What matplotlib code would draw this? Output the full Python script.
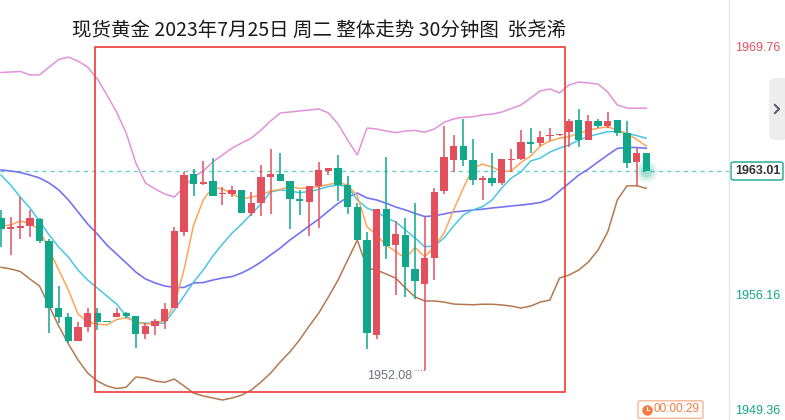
import matplotlib
matplotlib.use("Agg")
import matplotlib.pyplot as plt
from matplotlib.patches import Rectangle, FancyBboxPatch
from matplotlib.lines import Line2D

# 30-minute candles, spot gold, 2023-07-25
opens = [1960.44, 1959.84, 1959.89, 1960.00, 1960.37, 1959.18, 1955.48, 1954.99, 1953.67, 1954.46,
         1955.21, 1954.72, 1955.00, 1955.21, 1955.04, 1954.07, 1954.51, 1954.78, 1955.50, 1959.67,
         1962.85, 1962.30, 1962.46, 1961.73, 1961.75, 1961.97, 1960.72, 1961.27, 1962.70, 1962.85,
         1962.46, 1961.47, 1961.32, 1962.20, 1963.03, 1963.17, 1962.24, 1961.03, 1959.22, 1954.00,
         1960.92, 1958.94, 1959.49, 1957.63, 1956.82, 1958.25, 1961.93, 1963.61, 1964.38, 1963.61,
         1962.52, 1962.61, 1962.37, 1963.61, 1963.67, 1964.60, 1964.57, 1964.92, 1964.97, 1965.15,
         1965.81, 1964.71, 1965.76, 1965.50, 1965.81, 1965.11, 1963.52, 1963.98]
highs = [1960.87, 1960.50, 1961.58, 1960.87, 1960.41, 1959.27, 1956.69, 1955.22, 1954.73, 1955.48,
         1955.48, 1954.74, 1955.48, 1955.26, 1955.04, 1954.67, 1954.88, 1955.76, 1959.92, 1962.97,
         1963.12, 1963.56, 1963.72, 1962.15, 1962.19, 1961.97, 1961.87, 1963.34, 1964.22, 1964.00,
         1962.46, 1961.97, 1962.19, 1963.49, 1963.17, 1963.89, 1962.74, 1961.25, 1959.66, 1960.92,
         1963.76, 1960.28, 1960.41, 1961.24, 1960.50, 1962.06, 1965.48, 1964.99, 1965.85, 1964.75,
         1962.74, 1964.00, 1963.67, 1964.20, 1965.26, 1965.39, 1965.22, 1965.39, 1965.02, 1965.85,
         1966.40, 1966.09, 1965.85, 1966.24, 1965.81, 1965.76, 1964.26, 1963.98]
lows = [1958.85, 1958.39, 1959.27, 1959.40, 1959.04, 1954.13, 1954.64, 1953.54, 1953.67, 1954.18,
        1954.27, 1954.69, 1955.00, 1954.92, 1953.30, 1953.80, 1953.98, 1954.35, 1955.48, 1959.44,
        1961.65, 1962.24, 1961.65, 1961.14, 1961.60, 1960.69, 1960.55, 1960.55, 1960.65, 1962.48,
        1959.82, 1960.59, 1959.46, 1959.88, 1962.79, 1961.36, 1960.65, 1959.22, 1953.21, 1953.76,
        1958.19, 1956.20, 1956.07, 1955.96, 1952.08, 1957.02, 1961.75, 1962.97, 1963.30, 1962.24,
        1961.42, 1962.19, 1962.24, 1962.98, 1963.61, 1964.02, 1964.38, 1964.68, 1964.96, 1964.31,
        1964.35, 1964.71, 1965.36, 1965.36, 1964.95, 1963.16, 1962.20, 1963.01]
closes = [1959.81, 1959.92, 1959.99, 1960.43, 1959.18, 1955.50, 1955.00, 1953.67, 1954.44, 1955.21,
          1954.73, 1954.70, 1955.21, 1955.06, 1954.07, 1954.49, 1954.77, 1955.43, 1959.71, 1962.79,
          1962.31, 1962.41, 1961.65, 1961.78, 1961.97, 1960.72, 1961.27, 1962.70, 1962.85, 1962.48,
          1961.49, 1961.38, 1962.19, 1963.06, 1963.17, 1962.24, 1961.05, 1959.22, 1954.13, 1960.92,
          1958.91, 1959.55, 1957.75, 1956.98, 1958.23, 1961.86, 1963.78, 1964.38, 1963.61, 1962.52,
          1962.63, 1962.37, 1963.67, 1963.67, 1964.60, 1964.49, 1964.88, 1965.00, 1965.00, 1965.77,
          1964.71, 1965.76, 1965.50, 1965.76, 1965.11, 1963.47, 1963.98, 1963.01]

ma_fast = [1959.99, 1960.04, 1960.26, 1960.14, 1959.77, 1958.67, 1957.57, 1956.47, 1955.15, 1954.71,
           1954.60, 1954.55, 1954.85, 1954.95, 1954.73, 1954.60, 1954.64, 1954.79, 1955.65, 1957.57,
           1960.04, 1961.42, 1962.13, 1962.02, 1961.75, 1961.47, 1961.58, 1961.69, 1961.91, 1962.00,
           1962.15, 1962.06, 1962.08, 1962.15, 1962.27, 1962.37, 1962.24, 1961.64, 1959.95, 1959.49,
           1958.94, 1958.58, 1958.21, 1958.80, 1958.30, 1958.85, 1959.59, 1960.87, 1962.06, 1963.16,
           1963.39, 1963.23, 1962.98, 1963.01, 1963.48, 1963.83, 1964.38, 1964.66, 1964.81, 1964.90,
           1965.08, 1965.26, 1965.36, 1965.44, 1965.26, 1965.08, 1964.75, 1964.38]
ma_slow = [1962.79, 1962.24, 1961.58, 1960.98, 1960.26, 1959.49, 1958.83, 1958.28, 1957.57, 1957.02,
           1956.58, 1956.14, 1955.70, 1955.04, 1954.69, 1954.66, 1954.64, 1954.66, 1955.37, 1956.14,
           1956.91, 1957.57, 1958.34, 1959.00, 1959.60, 1960.10, 1960.65, 1961.20, 1961.86, 1961.97,
           1961.91, 1961.82, 1961.88, 1962.00, 1962.16, 1962.24, 1962.15, 1961.42, 1960.98, 1960.76,
           1960.43, 1960.21, 1959.77, 1959.33, 1958.85, 1958.89, 1959.33, 1959.99, 1960.59, 1960.87,
           1961.05, 1961.42, 1962.08, 1962.63, 1962.96, 1963.56, 1963.72, 1964.05, 1964.27, 1964.44,
           1964.71, 1964.91, 1965.04, 1965.17, 1965.18, 1965.08, 1964.96, 1964.81]
boll_mid = [1963.07, 1963.01, 1962.93, 1962.79, 1962.63, 1962.35, 1961.97, 1961.42, 1960.76, 1960.10,
            1959.55, 1958.94, 1958.45, 1957.96, 1957.46, 1957.08, 1956.86, 1956.69, 1956.62, 1956.61,
            1956.86, 1956.88, 1957.02, 1957.13, 1957.21, 1957.41, 1957.68, 1958.01, 1958.40, 1958.78,
            1959.22, 1959.60, 1959.99, 1960.37, 1960.81, 1961.23, 1961.57, 1961.80, 1961.53, 1961.42,
            1961.24, 1961.03, 1960.87, 1960.68, 1960.51, 1960.55, 1960.65, 1960.76, 1960.81, 1960.87,
            1960.91, 1960.98, 1961.03, 1961.09, 1961.14, 1961.20, 1961.28, 1961.47, 1961.91, 1962.35,
            1962.79, 1963.12, 1963.51, 1963.89, 1964.25, 1964.31, 1964.30, 1964.26]
boll_up = [1968.42, 1968.45, 1968.48, 1968.29, 1968.29, 1968.72, 1969.14, 1969.27, 1969.05, 1968.72,
           1968.07, 1967.19, 1966.25, 1965.10, 1963.45, 1962.35, 1962.02, 1961.75, 1961.58, 1962.13,
           1962.68, 1963.01, 1963.51, 1963.89, 1964.27, 1964.55, 1964.82, 1965.26, 1965.76, 1966.20,
           1966.25, 1966.31, 1966.36, 1966.42, 1966.20, 1965.59, 1964.71, 1963.89, 1965.37, 1965.32,
           1965.21, 1965.12, 1965.21, 1965.24, 1965.14, 1965.32, 1965.68, 1965.87, 1965.96, 1965.99,
           1966.09, 1966.14, 1966.25, 1966.44, 1966.64, 1967.02, 1967.41, 1967.52, 1967.30, 1967.74,
           1967.90, 1967.85, 1967.79, 1967.35, 1966.64, 1966.47, 1966.46, 1966.46]
boll_dn = [1957.72, 1957.63, 1957.49, 1957.08, 1956.69, 1955.59, 1954.49, 1953.51, 1952.63, 1951.91,
           1951.47, 1951.20, 1951.06, 1951.13, 1951.69, 1951.64, 1951.47, 1951.40, 1951.58, 1951.20,
           1950.81, 1950.65, 1950.54, 1950.43, 1950.54, 1950.70, 1950.98, 1951.42, 1951.91, 1952.52,
           1953.07, 1953.73, 1954.49, 1955.21, 1956.09, 1957.02, 1958.12, 1959.22, 1957.68, 1957.57,
           1957.35, 1957.12, 1956.58, 1956.09, 1955.87, 1955.87, 1955.81, 1955.70, 1955.68, 1955.66,
           1955.69, 1955.69, 1955.65, 1955.59, 1955.48, 1955.59, 1955.81, 1955.92, 1957.13, 1957.30,
           1957.57, 1958.01, 1958.67, 1959.66, 1961.42, 1962.19, 1962.20, 1962.06]

last_price = 1963.01
low_mark = 1952.08
axis_labels = [1969.76, 1956.16, 1949.36]
axis_colors = ["#E0505E", "#14A58A", "#14A58A"]
title = "现货黄金 2023年7月25日 周二 整体走势 30分钟图  张尧浠"
timer = "00:00:29"

UP = "#E2505E"
DOWN = "#10A78A"
W, H = 785, 420
YMIN, YMAX = 1949.33, 1972.406

fig = plt.figure(figsize=(W / 100, H / 100), dpi=100)
ax = fig.add_axes([0, 0, 1, 1])
ax.set_xlim(-1 / 9.63, (W - 1) / 9.63)
ax.set_ylim(YMIN, YMAX)
ax.axis("off")

def fx(px):
    return px / W

def fy(py):
    return 1 - py / H

def price_y(v):
    # figure fraction of a price on the right scale
    return (v - YMIN) / (YMAX - YMIN)

xs = list(range(len(opens)))

# indicator lines
ax.plot(xs, boll_up, color="#E291DA", lw=1.1, zorder=3)
ax.plot(xs, boll_mid, color="#7474F2", lw=1.2, zorder=3)
ax.plot(xs, boll_dn, color="#B5784F", lw=1.1, zorder=3)
ax.plot(xs, ma_slow, color="#48C6E4", lw=1.1, zorder=3)
ax.plot(xs, ma_fast, color="#FFA55A", lw=1.1, zorder=3)

# candles
for i in xs:
    o, h, l, c = opens[i], highs[i], lows[i], closes[i]
    col = UP if c >= o else DOWN
    ax.vlines(i, l, h, color=col, lw=1.1, zorder=4)
    body = max(abs(c - o), 0.06)
    ax.bar(i, body, bottom=min(o, c), width=0.76, color=col, lw=0, zorder=4)

# last price line and glow
ax.axhline(last_price, xmax=729 / W, color="#6CCFC3", lw=1, ls=(0, (3, 3)), zorder=2)
for s, a in [(260, 0.08), (150, 0.12), (70, 0.2)]:
    ax.scatter(xs[-1], last_price, s=s, color=DOWN, alpha=a, lw=0, zorder=5)

# lowest-point marker
ax.hlines(low_mark, 43.0, 44.0, color="#8A8E99", lw=0.8, ls=(0, (1, 1.5)), zorder=5)
ax.text(42.75, low_mark, f"{low_mark:.2f}", ha="right", va="top", fontsize=9,
        color="#6F7380", family="Liberation Sans", zorder=6)

# red frame
fig.add_artist(Rectangle((fx(94.7), fy(392.3)), fx(564.5 - 94.7), (392.3 - 46.7) / H,
                         transform=fig.transFigure, fill=False, edgecolor="#F03A3A", lw=1.2))

# right price scale
fig.add_artist(Line2D([fx(729.3), fx(729.3)], [0, 1], transform=fig.transFigure,
                      color="#E6E6E6", lw=1))
for v, c in zip(axis_labels, axis_colors):
    yy = min(price_y(v), 1 - 1 / H)
    yy = max(yy, 9 / H)
    fig.text(fx(735), yy, f"{v:.2f}", ha="left", va="center", fontsize=9, color=c,
             family="Liberation Sans")
fig.add_artist(FancyBboxPatch((fx(731), price_y(last_price) - 9 / H), fx(52), 18 / H,
                              transform=fig.transFigure,
                              boxstyle="round,pad=0,rounding_size=0.004",
                              facecolor="#FFFFFF", edgecolor="#14A58A", lw=1))
fig.text(fx(735), price_y(last_price), f"{last_price:.2f}", ha="left", va="center",
         fontsize=9, fontweight="bold", color="#333333", family="Liberation Sans")

# side tab
fig.add_artist(FancyBboxPatch((fx(769), fy(140)), fx(20), 62 / H, transform=fig.transFigure,
                              boxstyle="round,pad=0,rounding_size=0.01",
                              facecolor="#EDEDED", edgecolor="none"))
fig.add_artist(Line2D([fx(775), fx(779), fx(775)], [fy(105), fy(109), fy(113)],
                      transform=fig.transFigure, color="#5A5E66", lw=1.5))

# countdown box
fig.add_artist(FancyBboxPatch((fx(638), fy(418.3)), fx(65), 17.5 / H, transform=fig.transFigure,
                              boxstyle="round,pad=0,rounding_size=0.003",
                              facecolor="white", edgecolor="#F6B796", lw=1))
fig.add_artist(Line2D([fx(647)], [fy(409.5)], transform=fig.transFigure, marker="o",
                      markersize=6.5, color="#F57B3D", lw=0))
fig.add_artist(Line2D([fx(647), fx(647), fx(649)], [fy(406.5), fy(409.5), fy(409.5)],
                      transform=fig.transFigure, color="white", lw=0.8))
fig.text(fx(654), fy(409.5), timer, ha="left", va="center", fontsize=8.5, color="#F57B3D",
         family="Liberation Sans")

fig.text(fx(319), fy(30), title, ha="center", va="center", fontsize=14, color="#1A1A1A",
         family=["Noto Sans CJK SC", "DejaVu Sans"])

fig.savefig("out.png", dpi=100)
